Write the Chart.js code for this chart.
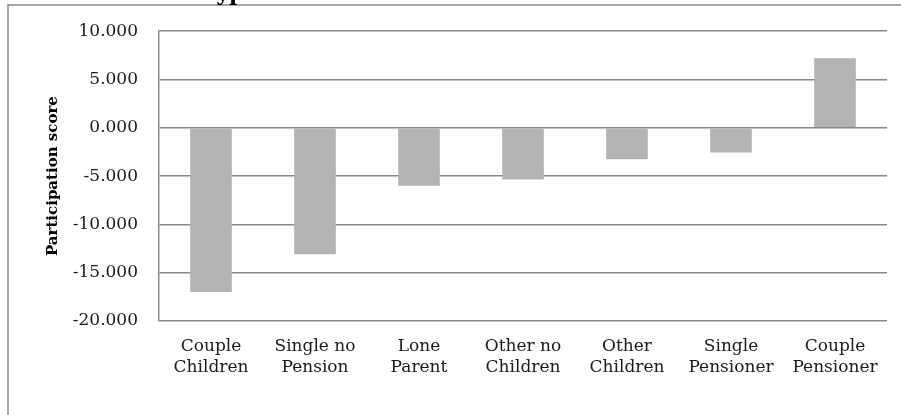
<!DOCTYPE html>
<html>
<head>
<meta charset="utf-8">
<script src="https://cdn.jsdelivr.net/npm/chart.js@4/dist/chart.umd.min.js"></script>
<style>
  html, body { margin: 0; padding: 0; background: #fff; }
  #wrap { width: 901px; height: 415px; position: relative; }
</style>
</head>
<body>
<div id="wrap"><canvas id="c" width="901" height="415"></canvas></div>
<script>
const categories = [
  ["Couple", "Children"],
  ["Single no", "Pension"],
  ["Lone", "Parent"],
  ["Other no", "Children"],
  ["Other", "Children"],
  ["Single", "Pensioner"],
  ["Couple", "Pensioner"]
];
const participationScores = [-17.0, -13.1, -6.0, -5.35, -3.25, -2.55, 7.2];
const yTickValues = [10, 5, 0, -5, -10, -15, -20];
const yAxisTitle = "Participation score";
const chartTitle = "Household type";

const SERIF = "'DejaVu Serif', 'Liberation Serif', serif";

const framePlugin = {
  id: 'frame',
  beforeDraw(chart) {
    const ctx = chart.ctx;
    ctx.save();
    ctx.strokeStyle = '#8a8a8a';
    ctx.lineWidth = 1.5;
    ctx.strokeRect(8, 5, 1200, 1200);
    ctx.font = "bold 22px " + SERIF;
    ctx.fillStyle = '#000';
    ctx.textBaseline = 'alphabetic';
    ctx.textAlign = 'left';
    const prefixW = ctx.measureText("Household ").width;
    ctx.fillText(chartTitle, 206 - prefixW, 0);
    ctx.restore();
  }
};

new Chart(document.getElementById('c'), {
  type: 'bar',
  data: {
    labels: categories,
    datasets: [{
      data: participationScores,
      backgroundColor: '#b3b3b3',
      borderWidth: 0,
      barPercentage: 0.4,
      categoryPercentage: 1.0
    }]
  },
  options: {
    responsive: false,
    animation: false,
    devicePixelRatio: 1,
    layout: { padding: { left: 44, top: 30, right: 14, bottom: 0 } },
    plugins: { legend: { display: false }, tooltip: { enabled: false }, title: { display: false } },
    scales: {
      x: {
        grid: { display: false, drawTicks: false },
        border: { display: false },
        ticks: {
          color: '#1a1a1a',
          font: { family: SERIF, size: 17, lineHeight: 1.25 },
          padding: 15,
          maxRotation: 0,
          autoSkip: false
        },
        afterFit(scale) { scale.height = 94; }
      },
      y: {
        min: -20,
        max: 10,
        afterBuildTicks(scale) { scale.ticks = yTickValues.map(v => ({ value: v })); },
        grid: { color: '#8a8a8a', lineWidth: 1.5, drawTicks: false },
        border: { display: true, color: '#8a8a8a', width: 1.5 },
        ticks: {
          color: '#1a1a1a',
          font: { family: SERIF, size: 17 },
          padding: 21,
          callback: v => Number(v).toFixed(3)
        },
        title: {
          display: true,
          text: yAxisTitle,
          color: '#000',
          font: { family: SERIF, size: 15, weight: 'bold', lineHeight: 1.2 },
          padding: 0
        },
        afterFit(scale) { scale.width = 115; }
      }
    }
  },
  plugins: [framePlugin]
});
</script>
</body>
</html>
